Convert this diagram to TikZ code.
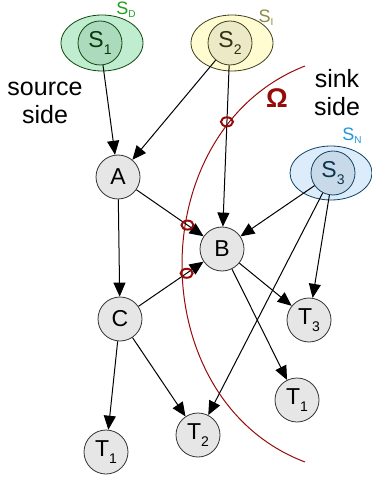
\documentclass[tikz,border=0pt]{standalone}
\usepackage{fontspec}
\setmainfont{Liberation Sans}
\usetikzlibrary{arrows.meta,shapes.geometric}
\definecolor{cutred}{RGB}{150,10,10}
\definecolor{dgreen}{RGB}{30,160,30}
\definecolor{dolive}{RGB}{140,140,60}
\definecolor{dsky}{RGB}{30,150,220}
\definecolor{softgreen}{RGB}{192,236,207}
\definecolor{midgreen}{RGB}{172,218,188}
\definecolor{softyellow}{RGB}{254,252,208}
\definecolor{midyellow}{RGB}{236,233,198}
\definecolor{softsky}{RGB}{220,236,250}
\definecolor{midsky}{RGB}{200,218,234}
\definecolor{vgrey}{RGB}{230,230,230}
\newcommand{\lowsub}[1]{\raisebox{-3.5pt}{\fontsize{7}{7}\selectfont #1}}
\newcommand{\setsub}[1]{\raisebox{-1.5pt}{\fontsize{5}{5}\selectfont #1}}

\begin{document}
\begin{tikzpicture}[x=0.5pt,y=-0.5pt,
    vertex/.style={circle,draw=black!80,fill=vgrey,minimum size=22pt,
      inner sep=0pt,font=\fontsize{11.5}{11.5}\selectfont},
    group/.style={ellipse,draw=#1!45!black,minimum width=41pt,
      minimum height=28pt,inner sep=0pt},
    member/.style={circle,draw=#1!45!black,text=#1!35!black,minimum size=22pt,
      inner sep=0pt,font=\fontsize{11.5}{11.5}\selectfont},
    setname/.style={text=#1,inner sep=0pt,font=\fontsize{9}{9}\selectfont},
    sidetext/.style={align=center,inner sep=0pt,font=\fontsize{12.5}{14}\selectfont},
    edge/.style={-{Triangle[length=7pt,width=6pt]},line width=0.5pt},
    cut/.style={ellipse,draw=cutred,line width=1pt,minimum width=6pt,
      minimum height=4.5pt,inner sep=0pt},
    omega/.style={draw=cutred,line width=0.5pt}
  ]
    \useasboundingbox (0,0) rectangle (371,480);

    % terminal sets and their members
    \node[group=dgreen,fill=softgreen] (SD) at (102,43) {};
    \node[group=dolive,fill=softyellow] (SI) at (232,43) {};
    \node[group=dsky,fill=softsky,minimum height=27pt] (SN) at (331,173) {};
    \node[member=dgreen,fill=midgreen] (S1) at (100,43) {S\lowsub{1}};
    \node[member=dolive,fill=midyellow] (S2) at (230,43) {S\lowsub{2}};
    \node[member=dsky,fill=midsky] (S3) at (333,173) {S\lowsub{3}};
    \node[setname=dgreen] (lD) at (126,10) {S\setsub{D}};
    \node[setname=dolive] (lI) at (266,18) {S\setsub{I}};
    \node[setname=dsky] (lN) at (352,136) {S\setsub{N}};

    % inner vertices and sinks
    \node[vertex] (A) at (118,177) {A};
    \node[vertex] (B) at (222,249) {B};
    \node[vertex] (C) at (120,319) {C};
    \node[vertex] (T3) at (309,320) {T\lowsub{3}};
    \node[vertex] (T1r) at (297,400) {T\lowsub{1}};
    \node[vertex] (T2) at (198,435) {T\lowsub{2}};
    \node[vertex] (T1l) at (106,452) {T\lowsub{1}};

    \node[sidetext] (src) at (45,103) {source\\side};
    \node[sidetext] (snk) at (337,93) {sink\\side};
    \node[text=cutred,inner sep=0pt,font=\fontsize{13.5}{13.5}\selectfont\bfseries] (om) at (277,98) {Ω};

    % the cut
    \coordinate (cuttop) at (305,66);
    \coordinate (cutbot) at (305,462);
    \draw[omega] (cuttop) .. controls (141,130) and (141,400) .. (cutbot);

    \draw[edge] (S1) -- (A);
    \draw[edge] (S2) -- (A);
    \draw[edge] (S2) -- node[cut,pos=0.35] {} (B);
    \draw[edge] (S3) -- (B);
    \draw[edge] (S3) -- (T3);
    \draw[edge] (S3) -- (T2);
    \draw[edge] (A) -- node[cut,pos=0.76] {} (B);
    \draw[edge] (A) -- (C);
    \draw[edge] (C) -- node[cut,pos=0.74] {} (B);
    \draw[edge] (C) -- (T1l);
    \draw[edge] (C) -- (T2);
    \draw[edge] (B) -- (T3);
    \draw[edge] (B) -- (T1r);
  \end{tikzpicture}
\end{document}
